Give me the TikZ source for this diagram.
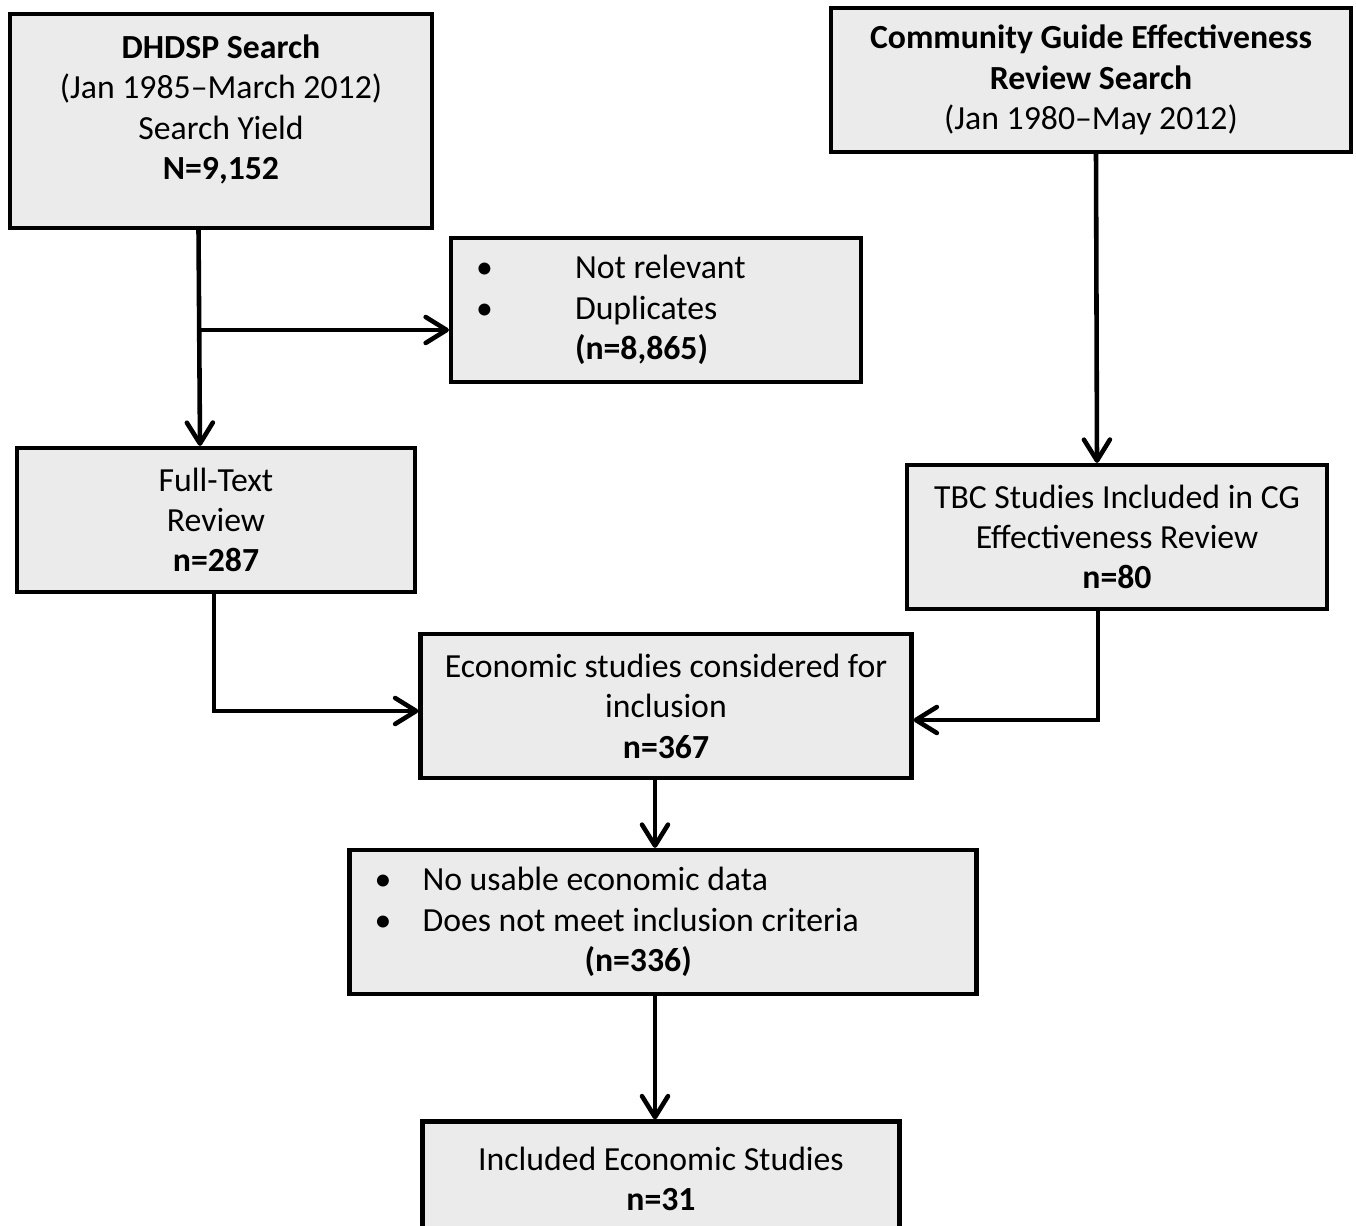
\documentclass[tikz,border=0pt]{standalone}
\usepackage{fontspec}
\setmainfont{Carlito}
\usetikzlibrary{arrows.meta,positioning}

\tikzset{
  box/.style={rectangle, draw=black, fill=black!8, line width=2.4pt,
              minimum height=2.88cm, align=center, inner sep=0pt},
  flow/.style={draw=black, line width=2.6pt, line cap=round,
               -{Straight Barb[length=4.2mm,width=5.2mm,round,line width=2.6pt]}}
}

\begin{document}
\begin{tikzpicture}[x=0.02cm, y=-0.02cm, font=\fontsize{19.2}{23}\selectfont]
  \useasboundingbox (0,0) rectangle (1356,1226);

  % search sources
  \node[box, minimum width=8.44cm, minimum height=4.28cm] at (221,121) (dhdsp) {};
  \node[align=center] at ([yshift=0.23cm]dhdsp.center) (dhdspText)
  {\textbf{DHDSP Search}\\(Jan 1985--March 2012)\\Search Yield\\\textbf{N=9,152}};

  \node[box, minimum width=10.40cm] at (1091,80) (cg)
  {\textbf{Community Guide Effectiveness}\\\textbf{Review Search}\\(Jan 1980--May 2012)};

  % first exclusion
  \node[box, minimum width=8.20cm] at (656,310) (excl1)
  {\makebox[8.2cm][l]{\hspace*{0.5cm}\makebox[1.98cm][l]{\textbullet}Not relevant}\\
   \makebox[8.2cm][l]{\hspace*{0.5cm}\makebox[1.98cm][l]{\textbullet}Duplicates}\\
   \makebox[8.2cm][l]{\hspace*{2.48cm}\textbf{(n=8,865)}}};

  \node[box, minimum width=7.96cm] at (216,520) (fulltext)
  {Full-Text\\Review\\\textbf{n=287}};
  \node[box, minimum width=8.40cm] at (1117,537) (tbc)
  {TBC Studies Included in CG\\Effectiveness Review\\\textbf{n=80}};

  \node[box, minimum width=9.82cm] at (666,706) (econ)
  {Economic studies considered for\\inclusion\\\textbf{n=367}};

  % second exclusion
  \node[box, minimum width=12.54cm] at (663,922) (excl2)
  {\makebox[12.54cm][l]{\hspace*{0.5cm}\makebox[0.96cm][l]{\textbullet}No usable economic data}\\
   \makebox[12.54cm][l]{\hspace*{0.5cm}\makebox[0.96cm][l]{\textbullet}Does not meet inclusion criteria}\\
   \makebox[12.54cm][l]{\hspace*{4.7cm}\textbf{(n=336)}}};

  \node[box, minimum width=9.54cm, minimum height=2.3cm] at (661,1179) (incl)
  {Included Economic Studies\\\textbf{n=31}};

  \coordinate (split) at (200,330);

  \draw[flow] ([xshift=-0.45cm]dhdsp.south) -- ([xshift=-0.32cm]fulltext.north);
  \draw[flow] (split) -- (split -| excl1.west);
  \draw[flow] ([xshift=0.1cm]cg.south) -- ([xshift=-0.4cm]tbc.north);
  \draw[flow] ([xshift=-0.04cm]fulltext.south) |- ([yshift=-0.1cm]econ.west);
  \draw[flow] ([xshift=-0.38cm]tbc.south) |- ([yshift=-0.28cm]econ.east);
  \draw[flow] ([xshift=-0.22cm]econ.south) -- ([xshift=-0.22cm]econ.south |- excl2.north);
  \draw[flow] ([xshift=-0.16cm]excl2.south) -- ([xshift=-0.16cm]excl2.south |- incl.north);
\end{tikzpicture}
\end{document}
